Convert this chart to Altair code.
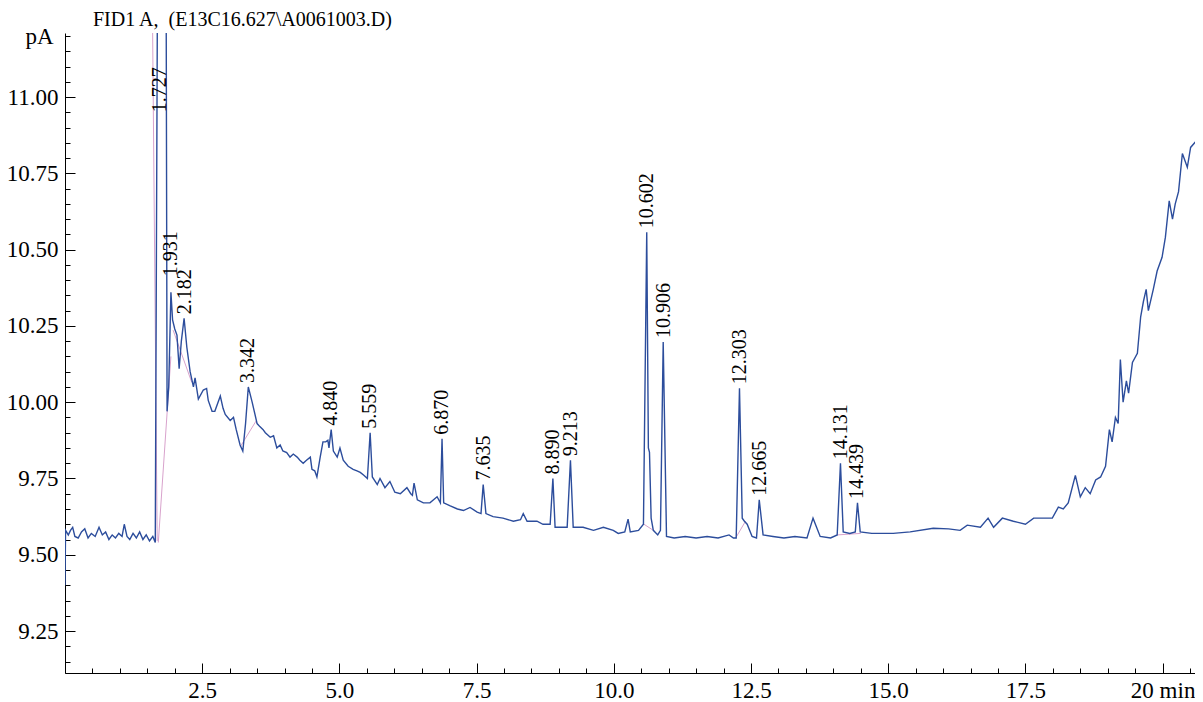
import altair as alt
import pandas as pd

# ---- chromatogram trace (retention time in min, signal in pA)
RT = [0.00, 0.01, 0.06, 0.10, 0.14, 0.18, 0.24, 0.30, 0.36, 0.42, 0.48, 0.55, 0.62, 0.68, 0.74,
      0.80, 0.86, 0.92, 0.98, 1.04, 1.08, 1.13, 1.18, 1.24, 1.30, 1.36, 1.42, 1.48, 1.54, 1.60,
      1.645, 1.69, 1.84, 1.86, 1.89, 1.93, 1.96, 2.00, 2.04, 2.08, 2.12, 2.17, 2.22, 2.28, 2.34,
      2.37, 2.43, 2.52, 2.58, 2.61, 2.68, 2.73, 2.83, 2.88, 2.92, 3.01, 3.07, 3.12, 3.19, 3.24,
      3.29, 3.34, 3.41, 3.50, 3.55, 3.61, 3.65, 3.74, 3.80, 3.86, 3.92, 3.97, 4.04, 4.10, 4.16,
      4.23, 4.28, 4.34, 4.40, 4.47, 4.50, 4.55, 4.59, 4.65, 4.70, 4.75, 4.79, 4.81, 4.85, 4.89,
      4.96, 5.01, 5.07, 5.16, 5.25, 5.32, 5.38, 5.45, 5.51, 5.56, 5.60, 5.69, 5.74, 5.83, 5.92,
      6.01, 6.11, 6.23, 6.30, 6.33, 6.36, 6.42, 6.53, 6.65, 6.78, 6.84, 6.87, 6.90, 7.02, 7.15,
      7.26, 7.38, 7.51, 7.58, 7.62, 7.67, 7.80, 7.98, 8.17, 8.30, 8.35, 8.42, 8.60, 8.71, 8.84,
      8.89, 8.93, 9.06, 9.15, 9.21, 9.26, 9.44, 9.63, 9.81, 9.99, 10.08, 10.20, 10.26, 10.30, 10.45,
      10.54, 10.60, 10.63, 10.65, 10.68, 10.72, 10.80, 10.85, 10.90, 10.96, 11.10, 11.30, 11.50, 11.70, 11.90,
      12.10, 12.18, 12.23, 12.29, 12.34, 12.38, 12.43, 12.52, 12.60, 12.65, 12.72, 12.90, 13.10, 13.30, 13.52,
      13.63, 13.76, 13.95, 14.07, 14.13, 14.18, 14.30, 14.40, 14.44, 14.49, 14.70, 15.09, 15.40, 15.82, 16.10,
      16.31, 16.44, 16.68, 16.82, 16.92, 17.08, 17.28, 17.50, 17.65, 17.90, 17.99, 18.10, 18.19, 18.28, 18.41,
      18.50, 18.59, 18.68, 18.78, 18.87, 18.96, 19.03, 19.08, 19.14, 19.19, 19.23, 19.28, 19.34, 19.38, 19.45,
      19.54, 19.60, 19.65, 19.70, 19.74, 19.83, 19.90, 19.99, 20.05, 20.12, 20.18, 20.23, 20.29, 20.36, 20.45,
      20.51, 20.63, 20.74]
PA = [9.40, 9.58, 9.565, 9.58, 9.59, 9.56, 9.555, 9.575, 9.585, 9.555, 9.57, 9.56, 9.59, 9.565, 9.575,
      9.55, 9.565, 9.555, 9.57, 9.56, 9.60, 9.56, 9.55, 9.57, 9.555, 9.575, 9.55, 9.565, 9.545, 9.56,
      9.54, 11.60, 11.60, 9.97, 10.05, 10.36, 10.27, 10.24, 10.22, 10.11, 10.20, 10.275, 10.18, 10.10, 10.05,
      10.08, 10.01, 10.04, 10.045, 10.006, 9.97, 9.97, 10.02, 9.98, 9.96, 9.94, 9.95, 9.91, 9.86, 9.84,
      9.93, 10.05, 10.00, 9.93, 9.92, 9.91, 9.90, 9.885, 9.89, 9.85, 9.86, 9.84, 9.835, 9.82, 9.83,
      9.82, 9.81, 9.80, 9.81, 9.82, 9.78, 9.775, 9.755, 9.82, 9.87, 9.87, 9.875, 9.85, 9.91, 9.84,
      9.82, 9.85, 9.81, 9.79, 9.78, 9.775, 9.77, 9.76, 9.75, 9.90, 9.755, 9.73, 9.75, 9.72, 9.74,
      9.705, 9.70, 9.72, 9.70, 9.695, 9.735, 9.68, 9.67, 9.67, 9.69, 9.67, 9.88, 9.67, 9.66, 9.65,
      9.645, 9.655, 9.64, 9.635, 9.73, 9.635, 9.625, 9.62, 9.61, 9.615, 9.635, 9.61, 9.61, 9.60, 9.60,
      9.75, 9.59, 9.59, 9.59, 9.81, 9.59, 9.59, 9.58, 9.59, 9.58, 9.57, 9.575, 9.617, 9.575, 9.58,
      9.60, 10.557, 9.85, 9.836, 9.62, 9.58, 9.565, 9.58, 10.197, 9.56, 9.555, 9.56, 9.555, 9.56, 9.555,
      9.565, 9.555, 9.555, 10.046, 9.62, 9.61, 9.60, 9.56, 9.555, 9.68, 9.565, 9.56, 9.555, 9.56, 9.555,
      9.62, 9.56, 9.555, 9.565, 9.80, 9.575, 9.57, 9.575, 9.67, 9.575, 9.57, 9.57, 9.575, 9.587, 9.585,
      9.58, 9.597, 9.59, 9.62, 9.59, 9.62, 9.61, 9.60, 9.62, 9.62, 9.62, 9.656, 9.65, 9.67, 9.76,
      9.69, 9.72, 9.70, 9.745, 9.755, 9.79, 9.91, 9.87, 9.95, 9.93, 10.14, 10.00, 10.07, 10.03, 10.13,
      10.16, 10.28, 10.33, 10.37, 10.30, 10.37, 10.43, 10.475, 10.54, 10.66, 10.60, 10.65, 10.69, 10.815, 10.77,
      10.835, 10.86, 10.90]

# ---- integration baselines (pink), pairs of points per segment
BASE_SEG = [0, 0, 1, 1, 2, 2, 3, 3, 4, 4, 5, 5, 6, 6]
BASE_RT = [1.68, 1.595, 1.70, 1.93, 1.97, 2.31, 3.19, 3.48, 10.55, 10.72, 12.22, 12.40, 14.07, 14.50]
BASE_PA = [9.545, 11.25, 9.54, 10.15, 10.236, 10.065, 9.853, 9.938, 9.60, 9.58, 9.555, 9.61, 9.565, 9.57]

# ---- peak annotations
PEAK_RT = [1.727, 1.931, 2.182, 3.342, 4.840, 5.559, 6.870, 7.635, 8.890, 9.213,
           10.602, 10.906, 12.303, 12.665, 14.131, 14.439]
PEAK_Y = [10.937, 10.40, 10.275, 10.05, 9.91, 9.90, 9.88, 9.73, 9.75, 9.81,
          10.557, 10.197, 10.046, 9.68, 9.80, 9.67]
PEAK_TEXT = ["1.727", "1.931", "2.182", "3.342", "4.840", "5.559", "6.870", "7.635", "8.890", "9.213",
             "10.602", "10.906", "12.303", "12.665", "14.131", "14.439"]

# ---- axes
X_TICKS = [i * 0.5 for i in range(0, 42)]
Y_TICKS = [round(9.15 + i * 0.05, 2) for i in range(0, 42)]
X_DOMAIN = [0, 20.59]
Y_DOMAIN = [9.1125, 11.21]
TITLE = ["FID1 A,\u00a0 (E13C16.627\\A0061003.D)"]

SERIF = "Liberation Serif"
TRACE_COLOR = "#2c4d9c"
BASE_COLOR = "#d8a2cc"

trace = pd.DataFrame({"rt": RT, "pa": PA})
base = pd.DataFrame({"seg": BASE_SEG, "rt": BASE_RT, "pa": BASE_PA})
peaks = pd.DataFrame({"rt": PEAK_RT, "pa": PEAK_Y, "label": PEAK_TEXT})
title_df = pd.DataFrame({"title": TITLE})

x_axis = alt.Axis(
    values=X_TICKS, tickCount=200,
    labelExpr="datum.value == 20 ? '20 min' : ((datum.value > 0 && datum.value % 2.5 == 0) ? format(datum.value, '.1f') : '')",
    tickSize={"condition": {"test": "datum.value % 2.5 == 0", "value": -10}, "value": -5},
    labelFont=SERIF, labelFontSize=23, labelColor="black", labelPadding=16,
    domainColor="black", tickColor="black", grid=False, title=None,
    labelOverlap=False, labelFlush=False,
)
y_axis = alt.Axis(
    values=Y_TICKS, tickCount=200,
    labelExpr="abs(datum.value - 11.2) < 0.001 ? 'pA' : (round(datum.value * 100) % 25 == 0 ? format(datum.value, '.2f') : '')",
    tickSize={"condition": {"test": "round(datum.value * 100) % 25 == 0", "value": -10}, "value": -5},
    labelFont=SERIF, labelFontSize=23, labelColor="black", labelPadding=17,
    domainColor="black", tickColor="black", grid=False, title=None,
    labelOverlap=False, labelFlush=False,
)

xs = alt.Scale(domain=X_DOMAIN, nice=False, zero=False)
ys = alt.Scale(domain=Y_DOMAIN, nice=False, zero=False)

line = alt.Chart(trace).mark_line(color=TRACE_COLOR, strokeWidth=1.4, clip=True).encode(
    x=alt.X("rt:Q", scale=xs, axis=x_axis),
    y=alt.Y("pa:Q", scale=ys, axis=y_axis),
    order="rt:Q",
)
baselines = alt.Chart(base).mark_line(color=BASE_COLOR, strokeWidth=1, clip=True).encode(
    x=alt.X("rt:Q", scale=xs),
    y=alt.Y("pa:Q", scale=ys),
    detail="seg:N",
)
labels = alt.Chart(peaks).mark_text(
    angle=270, align="left", baseline="middle", dx=4,
    font=SERIF, fontSize=20, color="black",
).encode(
    x=alt.X("rt:Q", scale=xs),
    y=alt.Y("pa:Q", scale=ys),
    text="label:N",
)
title = alt.Chart(title_df).mark_text(
    align="left", baseline="alphabetic", font=SERIF, fontSize=20, color="black",
).encode(
    x=alt.value(28),
    y=alt.value(-7),
    text="title:N",
)

chart = alt.layer(baselines, line, labels, title).properties(
    width=1130,
    height=640,
    padding={"left": 57, "top": 25, "right": 0, "bottom": 30},
    autosize=alt.AutoSizeParams(type="none"),
).configure_view(stroke=None)

chart.save("out.html", embed_options={"renderer": "svg", "actions": False})
